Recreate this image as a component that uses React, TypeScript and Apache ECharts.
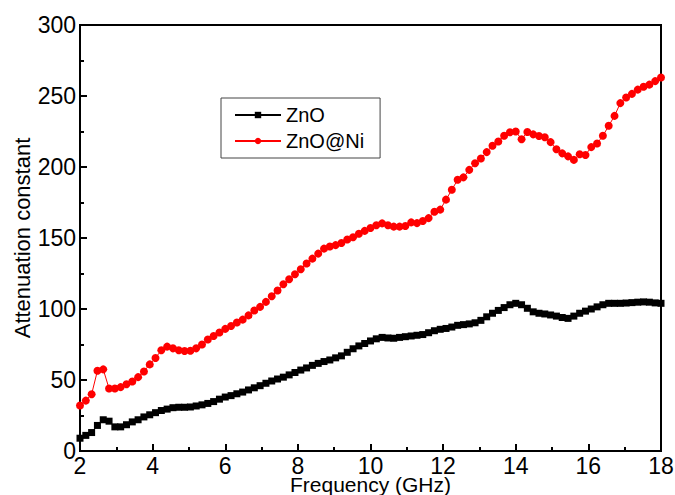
import React, { useEffect, useRef } from "react";
import * as echarts from "echarts";

const freqStart = 2;
const freqStep = 0.16;

const znoValues = [
  9, 11, 13, 18, 22, 21, 17, 17, 18.5, 20.5,
  22, 24, 25.5, 27, 28.5, 29.5, 30.5, 30.8, 30.8, 31,
  31.7, 32.5, 33.5, 34.8, 36.5, 38, 39, 40.3, 41.5, 43,
  44.5, 46, 47.7, 49.3, 50.7, 52, 53.6, 55.3, 57, 58.5,
  60.3, 61.7, 63, 64.1, 65.6, 67, 69.5, 72, 74, 75.7,
  77.5, 79, 80, 79.6, 79.4, 80, 80.5, 81, 81.5, 82,
  83.3, 84.7, 85.7, 86.3, 87.3, 88.5, 89, 89.5, 90.3, 92,
  94.5, 97, 99, 101, 103, 104, 103, 100.5, 98, 97,
  96.5, 95.8, 95, 94, 93.4, 95, 97, 98.5, 100, 101.5,
  103, 104, 104, 104, 104.2, 104.5, 104.8, 105, 104.8, 104.3,
  104,
];

const znoNiValues = [
  32, 35.5, 40, 56.5, 57.5, 44, 44, 45, 47, 49,
  52, 56, 61, 65.5, 71, 73.5, 72.3, 71, 70.4, 70.6,
  72.3, 75, 78.5, 81, 83.5, 86, 88, 90.5, 92.5, 95.5,
  99, 101.5, 105, 109, 113, 117.4, 121, 124.5, 128, 132,
  135.5, 139, 142.5, 144, 145, 146.5, 149, 150.5, 153, 155,
  157, 159, 160.3, 159, 158, 158, 158.5, 161, 160.5, 162,
  164, 168.5, 170, 177, 184, 191, 192.7, 198, 202.6, 206,
  210.5, 215, 218, 222, 224.5, 225, 219.5, 224.6, 223, 221.8,
  221, 217.5, 212.5, 209.6, 207.5, 205, 209, 208.5, 214, 216.5,
  222, 229, 236, 245, 249, 251.5, 254.5, 256.5, 258, 260.5,
  263,
];

const seriesNames = ["ZnO", "ZnO@Ni"];
const xTitle = "Frequency (GHz)";
const yTitle = "Attenuation constant";

const toPairs = (vals: number[]) =>
  vals.map((v, i) => [+(freqStart + i * freqStep).toFixed(2), v]);

export default function App() {
  const ref = useRef<HTMLDivElement>(null);
  useEffect(() => {
    if (!ref.current) return;
    const chart = echarts.init(ref.current, undefined, { renderer: "svg" });
    const font = "Liberation Sans, Arial, sans-serif";
    chart.setOption({
      animation: false,
      backgroundColor: "#fff",
      textStyle: { fontFamily: font },
      grid: {
        left: 80,
        top: 25,
        right: 14,
        bottom: 44,
        outerBoundsMode: "none",
        containLabel: false,
        show: true,
        borderColor: "#000",
        borderWidth: 2,
        backgroundColor: "transparent",
      },
      legend: {
        left: 221,
        top: 98,
        orient: "vertical",
        borderColor: "#444",
        borderWidth: 1,
        padding: [7, 16, 7, 13],
        itemGap: 6,
        itemWidth: 46,
        itemHeight: 8,
        textStyle: { fontSize: 20, color: "#000", fontFamily: font },
        data: seriesNames,
      },
      xAxis: {
        type: "value",
        min: 2,
        max: 18,
        interval: 2,
        name: xTitle,
        nameLocation: "middle",
        nameGap: 25,
        nameMoveOverlap: false,
        nameTextStyle: { fontSize: 21, lineHeight: 16, color: "#000", fontFamily: font },
        axisLine: { show: true, lineStyle: { color: "#000", width: 2 } },
        axisTick: { show: true, inside: true, length: 7, lineStyle: { color: "#000", width: 2 } },
        minorTick: { show: true, splitNumber: 2, length: 4, lineStyle: { color: "#000", width: 2 } },
        axisLabel: { fontSize: 23, lineHeight: 18, color: "#000", margin: 6, fontFamily: font },
        splitLine: { show: false },
      },
      yAxis: {
        type: "value",
        min: 0,
        max: 300,
        interval: 50,
        name: yTitle,
        nameLocation: "middle",
        nameGap: 47,
        nameMoveOverlap: false,
        nameTextStyle: { fontSize: 22, color: "#000", fontFamily: font },
        axisLine: { show: true, lineStyle: { color: "#000", width: 2 } },
        axisTick: { show: true, inside: true, length: 7, lineStyle: { color: "#000", width: 2 } },
        minorTick: { show: true, splitNumber: 2, length: 4, lineStyle: { color: "#000", width: 2 } },
        axisLabel: { fontSize: 23, color: "#000", margin: 4, fontFamily: font },
        splitLine: { show: false },
      },
      series: [
        {
          name: seriesNames[0],
          type: "line",
          data: toPairs(znoValues),
          symbol: "rect",
          symbolSize: 7,
          showAllSymbol: true,
          itemStyle: { color: "#000" },
          lineStyle: { color: "#000", width: 1 },
        },
        {
          name: seriesNames[1],
          type: "line",
          data: toPairs(znoNiValues),
          symbol: "circle",
          symbolSize: 8,
          showAllSymbol: true,
          itemStyle: { color: "#ff0000" },
          lineStyle: { color: "#ff0000", width: 1 },
        },
      ],
    });
    return () => chart.dispose();
  }, []);
  return (
    <div
      ref={ref}
      style={{ position: "fixed", left: 0, top: 0, width: 675, height: 495 }}
    />
  );
}
